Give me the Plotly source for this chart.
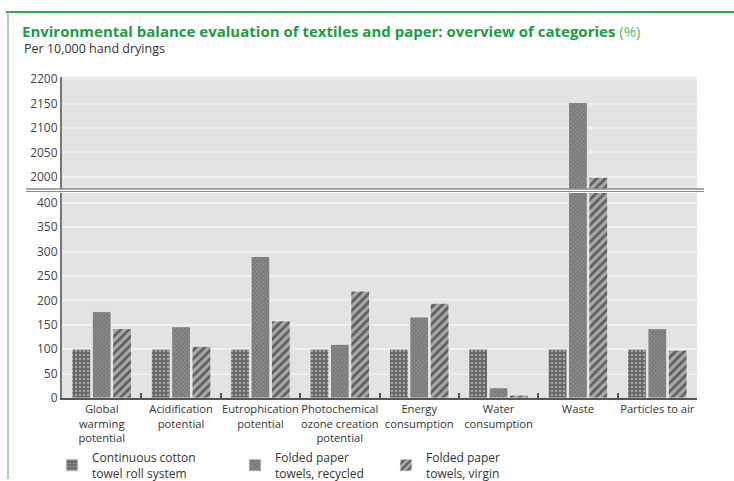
import plotly.graph_objects as go

categories = ["Global<br>warming<br>potential", "Acidification<br>potential",
              "Eutrophication<br>potential", "Photochemical<br>ozone creation<br>potential",
              "Energy<br>consumption", "Water<br>consumption", "Waste", "Particles to air"]
cotton = [100, 100, 100, 100, 100, 100, 100, 100]
recycled = [177, 146, 290, 110, 166, 21, 2152, 142]
virgin = [142, 106, 158, 219, 194, 6, 1999, 98]
series_names = ["Continuous cotton<br>towel roll system",
                "Folded paper<br>towels, recycled",
                "Folded paper<br>towels, virgin"]
top_ticks = [2000, 2050, 2100, 2150, 2200]
bottom_ticks = [0, 50, 100, 150, 200, 250, 300, 350, 400]

FONT = "Open Sans"
patterns = [
    dict(shape=".", bgcolor="#666666", fgcolor="#a4a4a4", size=4, solidity=0.3, fillmode="replace"),
    dict(shape="x", bgcolor="#8a8a8a", fgcolor="#666666", size=3, solidity=0.35, fillmode="replace"),
    dict(shape="/", bgcolor="#a9a9a9", fgcolor="#5e5e5e", size=6, solidity=0.45, fillmode="replace"),
]
legend_ids = ["legend", "legend2", "legend3"]

fig = go.Figure()
for vals, name, pat, lg in zip([cotton, recycled, virgin], series_names, patterns, legend_ids):
    fig.add_trace(go.Bar(x=categories, y=vals, name=name, xaxis="x", yaxis="y",
                         marker=dict(color=pat["bgcolor"], pattern=pat,
                                     line=dict(color="#f2f2f2", width=0.8)),
                         showlegend=True, legend=lg))
    fig.add_trace(go.Bar(x=categories, y=vals, name=name, xaxis="x2", yaxis="y2",
                         marker=dict(color=pat["bgcolor"], pattern=pat,
                                     line=dict(color="#f2f2f2", width=0.8)),
                         showlegend=False))

W, H = 734, 481
L, R, T, B = 62, 697, 77, 398
def px(x):
    return (x - L) / (R - L)
def py(y):
    return (B - y) / (B - T)

bg = "#e3e3e5"
grid = "#f0f0f2"

def leg(xpix):
    return dict(orientation="v", x=xpix / W, y=1 - 443 / H, xref="container", yref="container",
                xanchor="left", yanchor="top", bgcolor="rgba(0,0,0,0)",
                font=dict(size=12, color="#333333"))

fig.update_layout(
    width=W, height=H,
    margin=dict(l=L, r=W - R, t=T, b=H - B, autoexpand=False),
    paper_bgcolor="white", plot_bgcolor=bg,
    barmode="group", bargap=0.23, bargroupgap=0.08,
    font=dict(family=FONT, size=12, color="#333333"),
    xaxis=dict(domain=[0, 1], anchor="y", type="category", tickson="boundaries",
               ticks="inside", ticklen=5, tickcolor="#555555", tickwidth=1.5,
               showline=True, linecolor="#555555", linewidth=1.5, showgrid=False,
               tickangle=0, automargin=False,
               tickfont=dict(size=11.2, color="#333333")),
    xaxis2=dict(domain=[0, 1], anchor="y2", type="category", matches="x",
                showticklabels=False, ticks="", showline=False, showgrid=False),
    yaxis=dict(domain=[0, py(193)], range=[0, 420], tickvals=bottom_ticks,
               showline=True, linecolor="#777777", linewidth=2, showgrid=True,
               gridcolor=grid, gridwidth=1.5, zeroline=False, ticks="", automargin=False,
               tickfont=dict(size=12, color="#444444")),
    yaxis2=dict(domain=[py(189), 1], range=[1975, 2204.5], tickvals=top_ticks,
                showline=True, linecolor="#777777", linewidth=2, showgrid=True,
                gridcolor=grid, gridwidth=1.5, zeroline=False, ticks="", automargin=False,
                tickfont=dict(size=12, color="#444444")),
    legend=leg(52), legend2=leg(235), legend3=leg(386),
    title=dict(text="<b>Environmental balance evaluation of textiles and paper: overview of categories</b>"
                    " <span style='color:#5db866'>(%)</span>",
               x=22 / W, xanchor="left", y=1 - 32 / H, yanchor="middle",
               font=dict(family=FONT, size=15, color="#1f9a45")),
    showlegend=True,
)

fig.add_annotation(text="Per 10,000 hand dryings", xref="paper", yref="paper",
                   x=px(22), y=py(48), xanchor="left", yanchor="middle",
                   showarrow=False, font=dict(size=12.5, color="#333333"))

# break line
fig.add_shape(type="line", xref="paper", yref="paper", x0=px(26), x1=px(704),
              y0=py(189), y1=py(189), line=dict(color="#8a8a8a", width=1.5))
fig.add_shape(type="line", xref="paper", yref="paper", x0=px(26), x1=px(704),
              y0=py(191.5), y1=py(191.5), line=dict(color="#8a8a8a", width=1.2))
# green frame
fig.add_shape(type="line", xref="paper", yref="paper", x0=px(6), x1=px(734),
              y0=py(12), y1=py(12), line=dict(color="#2ea84a", width=2))
fig.add_shape(type="line", xref="paper", yref="paper", x0=px(8), x1=px(8),
              y0=py(12), y1=py(479), line=dict(color="#7fcf8a", width=1.5))

fig.write_html("out.html", config={"displayModeBar": False},
               post_script="document.body.style.margin='0';")
